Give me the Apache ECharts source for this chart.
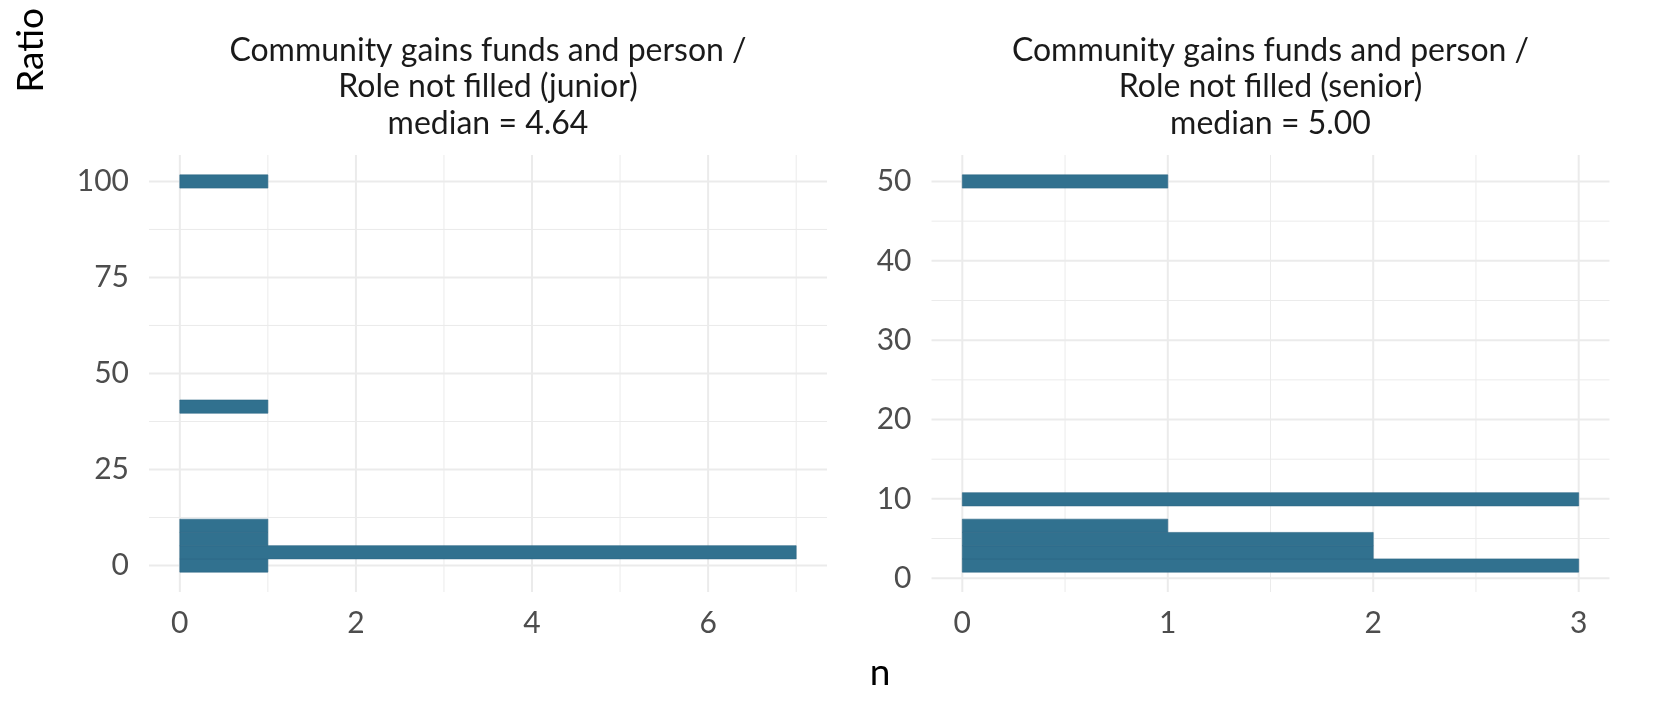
<!DOCTYPE html>
<html><head><meta charset="utf-8">
<script src="https://cdn.jsdelivr.net/npm/echarts@6/dist/echarts.min.js"></script>
<style>html,body{margin:0;padding:0;background:#fff}#c{width:1664px;height:705px}</style>
</head><body><div id="c"></div>
<script>
// ---- data ----
const juniorBinCenters = [0, 3.448, 6.897, 10.345, 41.379, 100];
const juniorCounts     = [1, 7, 1, 1, 1, 1];
const juniorBinWidth   = 3.448;
const seniorBinCenters = [1.6, 3.269, 4.938, 6.607, 9.945, 50];
const seniorCounts     = [3, 2, 2, 1, 3, 1];
const seniorBinWidth   = 1.669;

const juniorXTicks = [0, 2, 4, 6];
const juniorXMinor = [1, 3, 5, 7];
const juniorYTicks = [0, 25, 50, 75, 100];
const juniorYMinor = [12.5, 37.5, 62.5, 87.5];
const seniorXTicks = [0, 1, 2, 3];
const seniorXMinor = [0.5, 1.5, 2.5];
const seniorYTicks = [0, 10, 20, 30, 40, 50];
const seniorYMinor = [5, 15, 25, 35, 45];

const panelTitles = [
  'Community gains funds and person /\nRole not filled (junior)\nmedian = 4.64',
  'Community gains funds and person /\nRole not filled (senior)\nmedian = 5.00'
];
const xTitle = 'n';
const yTitle = 'Ratio';

// ---- layout / style ----
const FONT = 'Lato';
const BAR = '#31718F';
const GRID_COL = '#EBEBEB';
const grids = [
  {left: 149, top: 155, width: 678, height: 437},
  {left: 931.5, top: 155, width: 678, height: 437}
];
const xRanges = [[-0.35, 7.35], [-0.15, 3.15]];
const yRanges = [[-6.897, 106.897], [-1.738, 53.338]];

function binData(centers, counts, w) {
  return centers.map((c, i) => [c - w / 2, c + w / 2, counts[i]]);
}
function gridData(xMaj, xMin, yMaj, yMin) {
  const d = [];
  xMin.forEach(v => d.push([0, v, 0]));
  yMin.forEach(v => d.push([1, v, 0]));
  xMaj.forEach(v => d.push([0, v, 1]));
  yMaj.forEach(v => d.push([1, v, 1]));
  return d;
}
function renderGrid(params, api) {
  const cs = params.coordSys;
  const orient = api.value(0), v = api.value(1), major = api.value(2);
  let shape;
  if (orient === 0) {
    const x = api.coord([v, 0])[0];
    shape = {x1: x, y1: cs.y, x2: x, y2: cs.y + cs.height};
  } else {
    const y = api.coord([0, v])[1];
    shape = {x1: cs.x, y1: y, x2: cs.x + cs.width, y2: y};
  }
  return {type: 'line', shape: shape, style: {stroke: GRID_COL, lineWidth: major ? 2 : 1}, silent: true};
}
function renderBar(params, api) {
  const p0 = api.coord([0, api.value(1)]);
  const p1 = api.coord([api.value(2), api.value(0)]);
  return {type: 'rect', shape: {x: p0[0], y: p0[1], width: p1[0] - p0[0], height: p1[1] - p0[1]},
          style: {fill: BAR, stroke: '#2C6784', lineWidth: 0.6}};
}

const xTickSets = [juniorXTicks, seniorXTicks];
const yTickSets = [juniorYTicks, seniorYTicks];
const labelStyle = {color: '#4D4D4D', fontFamily: FONT, fontSize: 30};

const option = {
  backgroundColor: '#fff',
  animation: false,
  grid: grids.map(g => Object.assign({containLabel: false}, g)),
  xAxis: [0, 1].map(i => ({
    type: 'value', gridIndex: i, min: xRanges[i][0], max: xRanges[i][1],
    axisLine: {show: false}, axisTick: {show: false}, splitLine: {show: false},
    axisLabel: Object.assign({customValues: xTickSets[i], margin: 16}, labelStyle)
  })),
  yAxis: [0, 1].map(i => ({
    type: 'value', gridIndex: i, min: yRanges[i][0], max: yRanges[i][1],
    axisLine: {show: false}, axisTick: {show: false}, splitLine: {show: false},
    axisLabel: Object.assign({customValues: yTickSets[i], margin: 20}, labelStyle)
  })),
  series: [
    {type: 'custom', xAxisIndex: 0, yAxisIndex: 0, z: 1, silent: true,
     data: gridData(juniorXTicks, juniorXMinor, juniorYTicks, juniorYMinor), renderItem: renderGrid},
    {type: 'custom', xAxisIndex: 1, yAxisIndex: 1, z: 1, silent: true,
     data: gridData(seniorXTicks, seniorXMinor, seniorYTicks, seniorYMinor), renderItem: renderGrid},
    {type: 'custom', xAxisIndex: 0, yAxisIndex: 0, z: 2, encode: {x: 2, y: [0, 1]},
     data: binData(juniorBinCenters, juniorCounts, juniorBinWidth), renderItem: renderBar},
    {type: 'custom', xAxisIndex: 1, yAxisIndex: 1, z: 2, encode: {x: 2, y: [0, 1]},
     data: binData(seniorBinCenters, seniorCounts, seniorBinWidth), renderItem: renderBar}
  ],
  graphic: [
    {type: 'text', x: grids[0].left + grids[0].width / 2, y: 32,
     style: {text: panelTitles[0], fill: '#1A1A1A', font: '32px ' + FONT, lineHeight: 36.5, textAlign: 'center', textVerticalAlign: 'top'}},
    {type: 'text', x: grids[1].left + grids[1].width / 2, y: 32,
     style: {text: panelTitles[1], fill: '#1A1A1A', font: '32px ' + FONT, lineHeight: 36.5, textAlign: 'center', textVerticalAlign: 'top'}},
    {type: 'text', x: 880, y: 673,
     style: {text: xTitle, fill: '#000', font: '37px ' + FONT, textAlign: 'center', textVerticalAlign: 'middle'}},
    {type: 'text', x: 31, y: 8, rotation: Math.PI / 2,
     style: {text: yTitle, fill: '#000', font: '37px ' + FONT, textAlign: 'right', textVerticalAlign: 'middle'}}
  ]
};
const chart = echarts.init(document.getElementById('c'), null, {renderer: 'canvas'});
chart.setOption(option);
</script></body></html>
